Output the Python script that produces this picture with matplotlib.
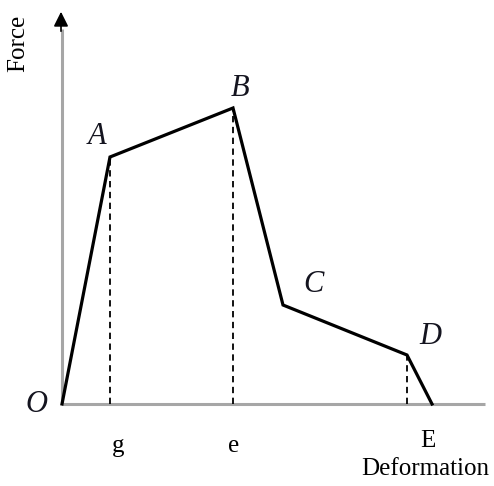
import matplotlib
matplotlib.use('Agg')
import matplotlib.pyplot as plt

# Points de la courbe force / déformation (O, A, B, C, D, fin)
deformation = [0, 48, 171, 221, 345, 370]
force = [0, 247, 296, 99, 49, 0]
point_labels = ['O', 'A', 'B', 'C', 'D']
tick_labels = ['g', 'e', 'E']

serif = 'Liberation Serif'

fig = plt.figure(figsize=(4.94, 4.86), dpi=100)
ax = fig.add_axes([0, 0, 1, 1])
ax.set_xlim(-62, 432)
ax.set_ylim(-82, 404)
ax.axis('off')

# axes en gris
ax.plot([0, 423], [0, 0], color='#a6a6a6', lw=2.2, solid_capstyle='butt', zorder=1)
ax.plot([0, 0], [0, 375], color='#a6a6a6', lw=2.2, solid_capstyle='butt', zorder=1)
ax.annotate('', xy=(-1, 395), xytext=(-1, 370),
            arrowprops=dict(arrowstyle='-|>', color='black', lw=1.2, mutation_scale=22))

# courbe
ax.plot(deformation, force, color='black', lw=2.3, solid_joinstyle='miter', zorder=3)

# pointillés sous A, B, D
for i in (1, 2, 4):
    ax.plot([deformation[i], deformation[i]], [0, force[i]], color='black',
            lw=1.3, linestyle=(0, (3.5, 2.5)), zorder=2)

# étiquettes des points
offsets = [(-26, 0), (-13, 20), (7, 19), (30, 21), (23, 19)]
for lab, x, y, (dx, dy) in zip(point_labels, deformation, force, offsets):
    ax.text(x + dx, y + dy, lab, fontsize=22, fontstyle='italic', family=serif,
            color='#14141f', ha='center', va='center')

# étiquettes sous l'axe
tick_x = [deformation[1] + 8, deformation[2] + 1, deformation[5] - 4]
tick_y = [-48, -48, -43]
for lab, x, y in zip(tick_labels, tick_x, tick_y):
    ax.text(x, y, lab, fontsize=18, family=serif, ha='center', va='baseline')

ax.text(363, -71, 'Deformation', fontsize=18, family=serif, ha='center', va='baseline')
fig.text(18 / 494, 1 - 43 / 486, 'Force', fontsize=18, family=serif, rotation=90,
         ha='center', va='center')

fig.savefig('out.png', dpi=100)
